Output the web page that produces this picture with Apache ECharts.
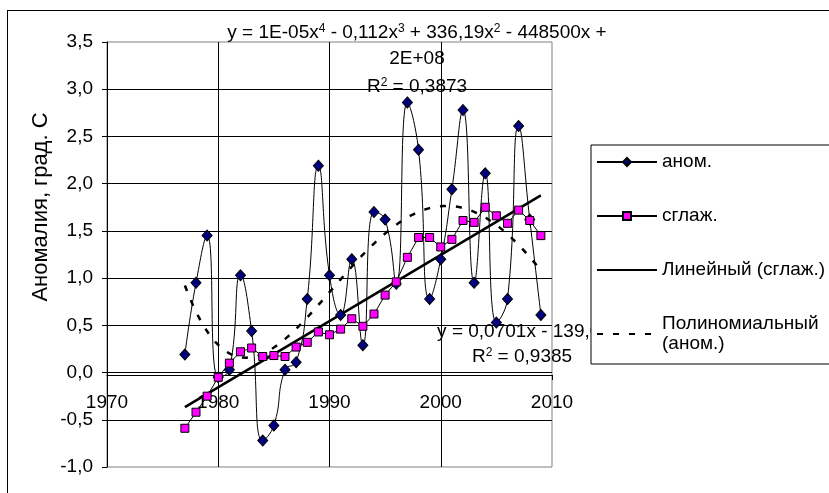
<!DOCTYPE html>
<html><head><meta charset="utf-8">
<script src="https://cdn.jsdelivr.net/npm/echarts@6/dist/echarts.min.js"></script>
<style>html,body{margin:0;padding:0;background:#fff}#c{width:829px;height:493px}</style>
</head><body><div id="c"></div>
<script>
const years = [1977,1978,1979,1980,1981,1982,1983,1984,1985,1986,1987,1988,1989,1990,1991,1992,1993,1994,1995,1996,1997,1998,1999,2000,2001,2002,2003,2004,2005,2006,2007,2008,2009];
const anomaly = [0.19,0.95,1.45,-0.05,0.03,1.03,0.44,-0.72,-0.56,0.03,0.11,0.78,2.19,1.03,0.61,1.20,0.29,1.70,1.62,0.94,2.86,2.36,0.78,1.20,1.94,2.78,0.95,2.11,0.53,0.78,2.61,1.62,0.61];
const smoothed = [-0.59,-0.42,-0.25,-0.05,0.10,0.22,0.26,0.17,0.18,0.17,0.27,0.32,0.43,0.40,0.46,0.57,0.49,0.62,0.82,0.96,1.22,1.43,1.43,1.33,1.41,1.61,1.59,1.75,1.66,1.58,1.72,1.61,1.45];
const seriesNames = ['аном.','сглаж.','Линейный (сглаж.)','Полиномиальный\n(аном.)'];
const yAxisTitle = 'Аномалия, град. С';
const polyEqLine1 = 'y = 1E-05x{s|4} - 0,112x{s|3} + 336,19x{s|2} - 448500x +';
const polyEqLine2 = '2E+08';
const polyR2 = 'R{s|2} = 0,3873';
const linEq = 'y = 0,0701x - 139,09';
const linR2 = 'R{s|2} = 0,9385';

function linFit(xs, ys){
  const n = xs.length; let sx=0,sy=0,sxx=0,sxy=0;
  for(let i=0;i<n;i++){sx+=xs[i];sy+=ys[i];sxx+=xs[i]*xs[i];sxy+=xs[i]*ys[i];}
  const b=(n*sxy-sx*sy)/(n*sxx-sx*sx); const a=(sy-b*sx)/n; return x=>a+b*x;
}
function polyFit(xs, ys, deg){
  const c = xs.reduce((s,v)=>s+v,0)/xs.length;
  const m = deg+1; const A=[];
  for(let i=0;i<m;i++){A.push(new Array(m+1).fill(0));}
  for(let k=0;k<xs.length;k++){
    const t=xs[k]-c;
    for(let i=0;i<m;i++){for(let j=0;j<m;j++){A[i][j]+=Math.pow(t,i+j);} A[i][m]+=ys[k]*Math.pow(t,i);}
  }
  for(let i=0;i<m;i++){
    let p=i; for(let r=i+1;r<m;r++){if(Math.abs(A[r][i])>Math.abs(A[p][i]))p=r;}
    [A[i],A[p]]=[A[p],A[i]];
    for(let r=0;r<m;r++){ if(r===i)continue; const f=A[r][i]/A[i][i]; for(let j=i;j<=m;j++)A[r][j]-=f*A[i][j]; }
  }
  const coef=A.map((row,i)=>row[m]/row[i]);
  return x=>{const t=x-c; let s=0; for(let i=0;i<m;i++)s+=coef[i]*Math.pow(t,i); return s;};
}
const lf = linFit(years, smoothed);
const pf = polyFit(years, anomaly, 4);
const x0 = years[0], x1 = years[years.length-1];
const linData = [[x0, lf(x0)], [x1, lf(x1)]];
const polyData = []; for(let x=x0; x<=x1+1e-9; x+=0.25){polyData.push([x, pf(x)]);}

const FONT = 'Liberation Sans, Arial, sans-serif';
const FS = 19;
const sup = {s:{fontSize:12,padding:[0,0,9,0],fontFamily:FONT,fill:'#000'}};
const chart = echarts.init(document.getElementById('c'), null, {renderer:'canvas'});
chart.setOption({
  animation:false,
  backgroundColor:'#fff',
  textStyle:{fontFamily:FONT},
  grid:{left:107,right:277,top:42,bottom:26,show:true,borderColor:'#808080',borderWidth:1,backgroundColor:'transparent'},
  xAxis:{type:'value',min:1970,max:2010,interval:10,
    axisLine:{show:true,onZero:false,lineStyle:{color:'#000',width:1}},
    axisTick:{show:true,length:5,lineStyle:{color:'#000'}},
    axisLabel:{margin:18,color:'#000',fontSize:FS,fontFamily:FONT,formatter:v=>String(v)},
    splitLine:{show:true,showMinLine:false,showMaxLine:false,lineStyle:{color:'#000',width:1}}},
  yAxis:{type:'value',min:-1,max:3.5,interval:0.5,
    axisLine:{show:true,onZero:false,lineStyle:{color:'#000',width:1}},
    axisTick:{show:true,length:5,lineStyle:{color:'#000'}},
    axisLabel:{margin:14,color:'#000',fontSize:FS,fontFamily:FONT,formatter:v=>v.toFixed(1).replace('.',',')},
    splitLine:{show:true,showMinLine:false,showMaxLine:false,lineStyle:{color:'#000',width:1}}},
  legend:{orient:'vertical',left:591,top:145,z:10,selectedMode:false,
    backgroundColor:'#fff',borderColor:'#000',borderWidth:1,borderRadius:0,
    padding:[7,30,10,5],itemWidth:60,itemHeight:10,itemGap:34,
    textStyle:{fontSize:FS,color:'#000',fontFamily:FONT,lineHeight:20},
    data:[{name:seriesNames[0]},{name:seriesNames[1]},
      {name:seriesNames[2],itemStyle:{opacity:0}},{name:seriesNames[3],itemStyle:{opacity:0}}]},
  series:[
    {name:seriesNames[0],type:'line',data:years.map((y,i)=>[y,anomaly[i]]),smooth:0.5,
      symbol:'diamond',symbolSize:[10,11],showAllSymbol:true,
      lineStyle:{color:'#000',width:1},itemStyle:{color:'#000080',borderColor:'#000',borderWidth:1},z:3},
    {name:seriesNames[1],type:'line',data:years.map((y,i)=>[y,smoothed[i]]),
      symbol:'rect',symbolSize:8,showAllSymbol:true,
      lineStyle:{color:'#000',width:1},itemStyle:{color:'#FF00FF',borderColor:'#000',borderWidth:1},z:4},
    {name:seriesNames[2],type:'line',data:linData,symbol:'none',
      lineStyle:{color:'#000',width:2.5},itemStyle:{color:'#000'},z:2},
    {name:seriesNames[3],type:'line',data:polyData,symbol:'none',
      lineStyle:{color:'#000',width:2.5,type:[6,10]},itemStyle:{color:'#000'},z:2}
  ],
  graphic:[
    {type:'line',shape:{x1:7,y1:10.5,x2:829,y2:10.5},style:{stroke:'#000',lineWidth:1},z:1},
    {type:'line',shape:{x1:7.5,y1:10,x2:7.5,y2:493},style:{stroke:'#000',lineWidth:1},z:1},
    {type:'text',x:41,y:207,rotation:Math.PI/2,z:1,
      style:{text:yAxisTitle,fontSize:22,fontFamily:FONT,fill:'#000',align:'center',verticalAlign:'middle'}},
    {type:'text',x:417,y:33,z:1,style:{text:polyEqLine1,fontSize:FS,fontFamily:FONT,fill:'#000',align:'center',verticalAlign:'middle',rich:sup}},
    {type:'text',x:417,y:59,z:1,style:{text:polyEqLine2,fontSize:FS,fontFamily:FONT,fill:'#000',align:'center',verticalAlign:'middle'}},
    {type:'text',x:417,y:87,z:1,style:{text:polyR2,fontSize:FS,fontFamily:FONT,fill:'#000',align:'center',verticalAlign:'middle',rich:sup}},
    {type:'text',x:524,y:332,z:1,style:{text:linEq,fontSize:FS,fontFamily:FONT,fill:'#000',align:'center',verticalAlign:'middle'}},
    {type:'text',x:522,y:357,z:1,style:{text:linR2,fontSize:FS,fontFamily:FONT,fill:'#000',align:'center',verticalAlign:'middle',rich:sup}}
  ]
});
// place the x axis on the y=0 line (Excel "axis crosses at 0")
const pZero = chart.convertToPixel({yAxisIndex:0}, 0);
const pMin = chart.convertToPixel({yAxisIndex:0}, -1);
chart.setOption({xAxis:{offset: pZero - pMin}});
</script></body></html>
